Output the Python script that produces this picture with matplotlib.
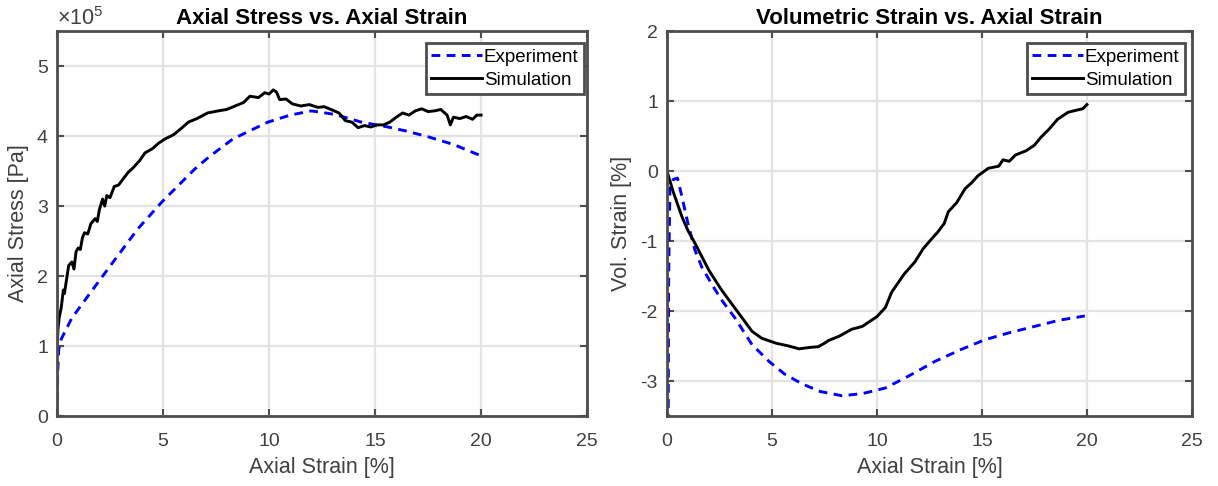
import matplotlib
matplotlib.use("Agg")
import matplotlib.pyplot as plt
from matplotlib.ticker import FuncFormatter

plt.rcParams['font.family'] = ['Liberation Sans', 'DejaVu Sans']
plt.rcParams['mathtext.fontset'] = 'custom'
plt.rcParams['mathtext.rm'] = 'Liberation Sans'
plt.rcParams['mathtext.it'] = 'Liberation Sans'
plt.rcParams['axes.unicode_minus'] = False

# ---------------- data ----------------
# Left: axial stress (Pa) vs axial strain (%)
exp_strain = [0, 0.03, 0.08, 0.2, 0.7, 1.45, 2.4, 3.8, 4.95, 6.5, 7.2, 8.3,
              9.95, 11.0, 12.0, 13.1, 14.35, 15.6, 16.5, 17.5, 18.7, 19.9]
exp_stress = [0, 0.6e5, 0.95e5, 1.1e5, 1.4e5, 1.71e5, 2.1e5, 2.67e5, 3.06e5, 3.53e5, 3.71e5, 3.96e5,
              4.2e5, 4.3e5, 4.36e5, 4.31e5, 4.2e5, 4.13e5, 4.07e5, 3.99e5, 3.88e5, 3.73e5]

sim_strain = [0, 0.05, 0.1, 0.2, 0.3, 0.35, 0.45, 0.55, 0.7, 0.8,
              0.9, 1.0, 1.1, 1.2, 1.3, 1.45, 1.6, 1.8, 1.9, 2.0,
              2.15, 2.25, 2.35, 2.5, 2.7, 2.9, 3.1, 3.35, 3.6, 3.9,
              4.15, 4.5, 4.8, 5.1, 5.5, 5.9, 6.2, 6.6, 7.1, 7.6,
              8.0, 8.4, 8.8, 9.1, 9.5, 9.8, 10.0, 10.2, 10.35, 10.5,
              10.8, 11.1, 11.5, 11.9, 12.3, 12.6, 13.0, 13.3, 13.6, 13.9,
              14.2, 14.5, 14.8, 15.1, 15.4, 15.7, 16.0, 16.3, 16.6, 16.9,
              17.2, 17.5, 17.8, 18.1, 18.4, 18.55, 18.7, 19.0, 19.3, 19.6,
              19.8, 20.0]
sim_stress_e5 = [1.0, 1.25, 1.4, 1.55, 1.8, 1.75, 1.95, 2.15, 2.2, 2.1,
                 2.35, 2.4, 2.38, 2.55, 2.62, 2.6, 2.75, 2.82, 2.78, 2.95,
                 3.1, 3.0, 3.15, 3.12, 3.28, 3.3, 3.38, 3.48, 3.55, 3.65,
                 3.76, 3.82, 3.9, 3.96, 4.02, 4.12, 4.2, 4.25, 4.33, 4.36,
                 4.38, 4.43, 4.48, 4.57, 4.55, 4.62, 4.6, 4.66, 4.63, 4.52,
                 4.53, 4.46, 4.43, 4.45, 4.41, 4.42, 4.37, 4.33, 4.22, 4.2,
                 4.12, 4.15, 4.13, 4.16, 4.16, 4.2, 4.27, 4.33, 4.3, 4.36,
                 4.39, 4.35, 4.36, 4.38, 4.3, 4.16, 4.27, 4.25, 4.28, 4.24,
                 4.3, 4.3]
sim_stress = [v * 1e5 for v in sim_stress_e5]

# Right: volumetric strain (%) vs axial strain (%)
exp_vstrain_x = [0.06, 0.08, 0.14, 0.3, 0.5, 0.7, 1.0, 1.33, 1.67, 2.2, 2.62, 3.24, 4.05, 4.86,
                 5.6, 6.43, 7.3, 8.33, 9.3, 10.4, 11.5, 12.76, 14.0, 15.14, 16.3, 17.5, 18.7, 19.9]
exp_vstrain_y = [-3.6, -1.5, -0.25, -0.12, -0.1, -0.35, -0.75, -1.13, -1.38, -1.65, -1.85, -2.1, -2.48, -2.72,
                 -2.9, -3.04, -3.15, -3.21, -3.18, -3.1, -2.93, -2.72, -2.55, -2.41, -2.31, -2.22, -2.13, -2.07]

sim_vstrain_x = [0, 0.3, 0.71, 1.0, 1.33, 2.0, 2.6, 3.24, 4.05, 4.52,
                 5.2, 5.8, 6.29, 6.8, 7.2, 7.5, 7.7, 8.2, 8.8, 9.3,
                 10.0, 10.4, 10.7, 11.3, 11.8, 12.2, 12.6, 12.9, 13.2, 13.4,
                 13.8, 14.2, 14.5, 14.8, 15.3, 15.8, 16.0, 16.3, 16.6, 17.1,
                 17.5, 17.8, 18.2, 18.6, 19.1, 19.5, 19.8, 20.0]
sim_vstrain_y = [0, -0.3, -0.65, -0.85, -1.03, -1.42, -1.7, -1.96, -2.29, -2.39,
                 -2.46, -2.5, -2.54, -2.52, -2.51, -2.46, -2.42, -2.36, -2.26, -2.22,
                 -2.08, -1.95, -1.73, -1.47, -1.3, -1.11, -0.97, -0.87, -0.75, -0.58,
                 -0.45, -0.25, -0.17, -0.07, 0.04, 0.07, 0.16, 0.14, 0.23, 0.29,
                 0.37, 0.48, 0.6, 0.74, 0.84, 0.87, 0.89, 0.95]

x_ticks = [0, 5, 10, 15, 20, 25]
left_yticks = [0, 1e5, 2e5, 3e5, 4e5, 5e5]
right_yticks = [-3, -2, -1, 0, 1, 2]

# ---------------- style ----------------
AX_COL = '#4d4d4d'
TXT_COL = '#404040'
GRID_COL = '#e3e3e3'

fig = plt.figure(figsize=(12.18, 4.86), dpi=100)
axL = fig.add_axes([0.0468, 0.144, 0.4352, 0.792])
axR = fig.add_axes([0.5476, 0.144, 0.4310, 0.792])


def style(ax):
    for s in ax.spines.values():
        s.set_color(AX_COL)
        s.set_linewidth(2.0)
    ax.tick_params(which='both', direction='in', length=5, width=1.5, color=AX_COL,
                   labelcolor=TXT_COL, labelsize=14, top=True, right=True)
    ax.tick_params(axis='x', pad=12)
    ax.tick_params(axis='y', pad=6.5)
    ax.grid(True, color=GRID_COL, linewidth=1.6)
    ax.set_axisbelow(True)
    ax.xaxis.label.set_color(TXT_COL)
    ax.yaxis.label.set_color(TXT_COL)


# Left
axL.plot(exp_strain, exp_stress, color='blue', linestyle='--', dashes=(3, 2.2),
         linewidth=2.1, label='Experiment')
axL.plot(sim_strain, sim_stress, color='black', linewidth=2.1, label='Simulation')
axL.set_xlim(0, 25)
axL.set_ylim(0, 5.5e5)
axL.set_xticks(x_ticks)
axL.set_yticks(left_yticks)
axL.yaxis.set_major_formatter(FuncFormatter(lambda v, p: f"{v/1e5:g}"))
style(axL)
axL.set_xlabel('Axial Strain [%]', fontsize=15.5, labelpad=5)
axL.set_ylabel('Axial Stress [Pa]', fontsize=15.5, labelpad=6)
axL.set_title('Axial Stress vs. Axial Strain', fontsize=16, fontweight='bold', pad=5)
axL.text(0.0, 1.004, r'$\times10^5$', transform=axL.transAxes, fontsize=15.5,
         color=TXT_COL, ha='left', va='bottom')

# Right
axR.plot(exp_vstrain_x, exp_vstrain_y, color='blue', linestyle='--', dashes=(3, 2.2),
         linewidth=2.1, label='Experiment')
axR.plot(sim_vstrain_x, sim_vstrain_y, color='black', linewidth=2.1, label='Simulation')
axR.set_xlim(0, 25)
axR.set_ylim(-3.5, 2)
axR.set_xticks(x_ticks)
axR.set_yticks(right_yticks)
style(axR)
axR.set_xlabel('Axial Strain [%]', fontsize=15.5, labelpad=5)
axR.set_ylabel('Vol. Strain [%]', fontsize=15.5, labelpad=6)
axR.set_title('Volumetric Strain vs. Axial Strain', fontsize=16, fontweight='bold', pad=5)

for ax, rgap in ((axL, 3 / 530), (axR, 7 / 525)):
    leg = ax.legend(loc='upper right', bbox_to_anchor=(1 - rgap, 1 - 12 / 384),
                    fontsize=13.5, fancybox=False, framealpha=1,
                    edgecolor=AX_COL, handlelength=2.7, handletextpad=0.1,
                    borderpad=0.3, labelspacing=0.3, borderaxespad=0)
    leg.get_frame().set_linewidth(2)

fig.savefig('out.png', dpi=100)
